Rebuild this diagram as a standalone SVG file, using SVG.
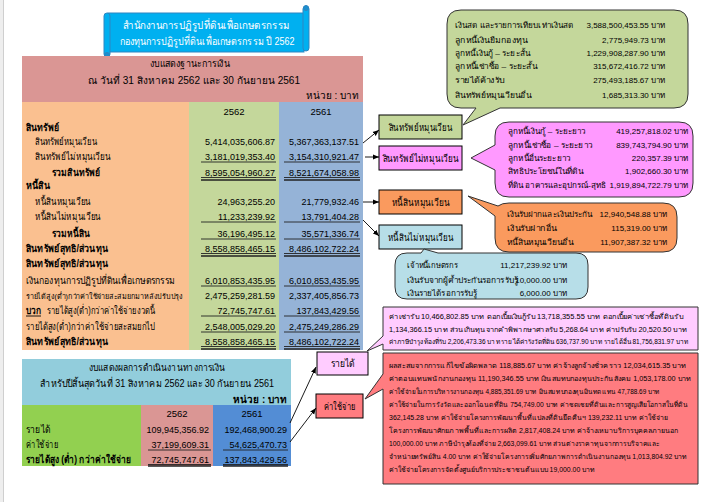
<svg xmlns="http://www.w3.org/2000/svg" width="714" height="502" viewBox="0 0 714 502">
<defs>
<marker id="ah" viewBox="0 0 10 10" refX="10" refY="5" markerWidth="7" markerHeight="7" orient="auto"><path d="M0,1 L10,5 L0,9 Z" fill="#000"/></marker>
<style>
text{font-family:"Liberation Sans","Noto Sans",sans-serif;fill:#000}
.th{font-size:10px}
.b{font-weight:bold}
.n{font-size:9px;text-anchor:end}
.h{font-size:9.5px;text-anchor:middle}
.c{font-size:8px}
.cn{font-size:8px;text-anchor:end}
.p{font-size:7px}
.ul{stroke:#222;stroke-width:0.9}
.dl{stroke:#222;stroke-width:1.6}
.box{stroke:#000;stroke-width:1}
.call{stroke:#333;stroke-width:1}
.ar{stroke:#000;stroke-width:0.9;fill:none;marker-end:url(#ah)}
</style>
</defs>
<rect width="714" height="502" fill="#fff"/>
<rect x="0" y="0" width="3" height="502" fill="#eeeeee"/>
<line x1="3.5" y1="0" x2="3.5" y2="502" stroke="#cfcfcf"/>

<g id="title">
<rect x="108" y="13" width="196" height="39" fill="#00B0F0" stroke="#2E86C1"/>
<rect x="303" y="6" width="6" height="45" rx="3" fill="#00B0F0" stroke="#2E86C1"/>
<circle cx="306" cy="8" r="2.5" fill="#1A8FD0" stroke="#2E86C1"/>
<rect x="104" y="13" width="6" height="44" rx="3" fill="#00B0F0" stroke="#2E86C1"/>
<circle cx="107" cy="55" r="2.5" fill="#1A8FD0" stroke="#2E86C1"/>
<text x="206" y="29" text-anchor="middle" style="font-size:10.5px;fill:#fff" textLength="167" lengthAdjust="spacingAndGlyphs">สำนักงานการปฏิรูปที่ดินเพื่อเกษตรกรรม</text>
<text x="207" y="45" text-anchor="middle" style="font-size:10.5px;fill:#fff" textLength="175" lengthAdjust="spacingAndGlyphs">กองทุนการปฏิรูปที่ดินเพื่อเกษตรกรรม  ปี 2562</text>
</g>

<g id="balance-sheet">
<rect x="22" y="56" width="341" height="46" fill="#DA9694"/>
<rect x="22" y="102" width="167" height="248" fill="#FAC090"/>
<rect x="189" y="102" width="90" height="248" fill="#C4D79B"/>
<rect x="279" y="102" width="84" height="248" fill="#95B3D7"/>
<text x="190" y="67" class="th" text-anchor="middle" textLength="80" lengthAdjust="spacingAndGlyphs">งบแสดงฐานะการเงิน</text>
<text x="194" y="84" class="th" text-anchor="middle" textLength="212" lengthAdjust="spacingAndGlyphs">ณ  วันที่ 31 สิงหาคม 2562 และ 30 กันยายน 2561</text>
<text x="359" y="99" class="th" text-anchor="end">หน่วย : บาท</text>
<text x="234" y="115" class="h">2562</text>
<text x="321" y="115" class="h">2561</text>

<text x="26" y="131" class="th b" textLength="33" lengthAdjust="spacingAndGlyphs">สินทรัพย์</text>
<text x="35" y="145" class="th" textLength="62" lengthAdjust="spacingAndGlyphs">สินทรัพย์หมุนเวียน</text>
<text x="35" y="160" class="th" textLength="76" lengthAdjust="spacingAndGlyphs">สินทรัพย์ไม่หมุนเวียน</text>
<text x="52" y="176" class="th b" textLength="48" lengthAdjust="spacingAndGlyphs">รวมสินทรัพย์</text>
<text x="26" y="189" class="th b" textLength="24" lengthAdjust="spacingAndGlyphs">หนี้สิน</text>
<text x="35" y="205" class="th" textLength="56" lengthAdjust="spacingAndGlyphs">หนี้สินหมุนเวียน</text>
<text x="35" y="220" class="th" textLength="66" lengthAdjust="spacingAndGlyphs">หนี้สินไม่หมุนเวียน</text>
<text x="52" y="237" class="th b" textLength="38" lengthAdjust="spacingAndGlyphs">รวมหนี้สิน</text>
<text x="26" y="252" class="th b" textLength="82" lengthAdjust="spacingAndGlyphs">สินทรัพย์สุทธิ/ส่วนทุน</text>
<text x="26" y="267" class="th b" textLength="82" lengthAdjust="spacingAndGlyphs">สินทรัพย์สุทธิ/ส่วนทุน</text>
<text x="26" y="284" class="th" textLength="149" lengthAdjust="spacingAndGlyphs">เงินกองทุนการปฏิรูปที่ดินเพื่อเกษตรกรรม</text>
<text x="26" y="299" style="font-size:7.6px" textLength="157" lengthAdjust="spacingAndGlyphs">รายได้สูง(ต่ำ)กว่าค่าใช้จ่ายสะสมยกมาหลังปรับปรุง</text>
<text x="26" y="314" class="th b" textLength="15" lengthAdjust="spacingAndGlyphs">บวก</text>
<line x1="26" y1="316" x2="41" y2="316" stroke="#000" stroke-width="0.9"/>
<text x="47" y="314" class="th" textLength="108" lengthAdjust="spacingAndGlyphs">รายได้สูง(ต่ำ)กว่าค่าใช้จ่ายงวดนี้</text>
<text x="26" y="330" class="th" textLength="129" lengthAdjust="spacingAndGlyphs">รายได้สูง(ต่ำ)กว่าค่าใช้จ่ายสะสมยกไป</text>
<text x="26" y="345" class="th b" textLength="82" lengthAdjust="spacingAndGlyphs">สินทรัพย์สุทธิ/ส่วนทุน</text>

<text x="275" y="145" class="n">5,414,035,606.87</text>
<text x="359" y="145" class="n">5,367,363,137.51</text>
<text x="275" y="160" class="n">3,181,019,353.40</text>
<text x="359" y="160" class="n">3,154,310,921.47</text>
<text x="275" y="176" class="n">8,595,054,960.27</text>
<text x="359" y="176" class="n">8,521,674,058.98</text>
<text x="275" y="205" class="n">24,963,255.20</text>
<text x="359" y="205" class="n">21,779,932.46</text>
<text x="275" y="220" class="n">11,233,239.92</text>
<text x="359" y="220" class="n">13,791,404.28</text>
<text x="275" y="237" class="n">36,196,495.12</text>
<text x="359" y="237" class="n">35,571,336.74</text>
<text x="275" y="252" class="n">8,558,858,465.15</text>
<text x="359" y="252" class="n">8,486,102,722.24</text>
<text x="275" y="284" class="n">6,010,853,435.95</text>
<text x="359" y="284" class="n">6,010,853,435.95</text>
<text x="275" y="299" class="n">2,475,259,281.59</text>
<text x="359" y="299" class="n">2,337,405,856.73</text>
<text x="275" y="314" class="n">72,745,747.61</text>
<text x="359" y="314" class="n">137,843,429.56</text>
<text x="275" y="330" class="n">2,548,005,029.20</text>
<text x="359" y="330" class="n">2,475,249,286.29</text>
<text x="275" y="345" class="n">8,558,858,465.15</text>
<text x="359" y="345" class="n">8,486,102,722.24</text>

<g class="ul">
<line x1="201" y1="162" x2="276" y2="162"/><line x1="284" y1="162" x2="360" y2="162"/>
<line x1="201" y1="222" x2="276" y2="222"/><line x1="284" y1="222" x2="360" y2="222"/>
<line x1="201" y1="239" x2="276" y2="239"/><line x1="284" y1="239" x2="360" y2="239"/>
<line x1="201" y1="286" x2="276" y2="286"/><line x1="284" y1="286" x2="360" y2="286"/>
<line x1="201" y1="316" x2="276" y2="316"/><line x1="284" y1="316" x2="360" y2="316"/>
<line x1="201" y1="332" x2="276" y2="332"/><line x1="284" y1="332" x2="360" y2="332"/>
<line x1="201" y1="177.5" x2="276" y2="177.5"/><line x1="284" y1="177.5" x2="360" y2="177.5"/>
<line x1="201" y1="253.5" x2="276" y2="253.5"/><line x1="284" y1="253.5" x2="360" y2="253.5"/>
<line x1="201" y1="346.5" x2="276" y2="346.5"/><line x1="284" y1="346.5" x2="360" y2="346.5"/>
</g>
<g class="dl">
<line x1="201" y1="180" x2="276" y2="180"/><line x1="284" y1="180" x2="360" y2="180"/>
<line x1="201" y1="256" x2="276" y2="256"/><line x1="284" y1="256" x2="360" y2="256"/>
<line x1="201" y1="349" x2="276" y2="349"/><line x1="284" y1="349" x2="360" y2="349"/>
</g>
</g>

<g id="income-statement">
<rect x="22" y="359" width="269" height="46" fill="#92CDDC"/>
<rect x="22" y="405" width="119" height="61" fill="#92D050"/>
<rect x="141" y="405" width="72" height="61" fill="#DA9694"/>
<rect x="213" y="405" width="78" height="61" fill="#538DD5"/>
<text x="157" y="371" class="th" text-anchor="middle" textLength="136" lengthAdjust="spacingAndGlyphs">งบแสดงผลการดำเนินงานทางการเงิน</text>
<text x="157" y="387" class="th" text-anchor="middle" textLength="234" lengthAdjust="spacingAndGlyphs">สำหรับปีสิ้นสุดวันที่ 31 สิงหาคม 2562 และ 30 กันยายน 2561</text>
<text x="287" y="403" class="th b" text-anchor="end">หน่วย : บาท</text>
<text x="177" y="417" class="h">2562</text>
<text x="252" y="417" class="h">2561</text>
<text x="26" y="433" class="th" textLength="24" lengthAdjust="spacingAndGlyphs">รายได้</text>
<text x="26" y="448" class="th" textLength="32" lengthAdjust="spacingAndGlyphs">ค่าใช้จ่าย</text>
<text x="26" y="463" class="th b" textLength="105" lengthAdjust="spacingAndGlyphs">รายได้สูง (ต่ำ) กว่าค่าใช้จ่าย</text>
<text x="209" y="433" class="n">109,945,356.92</text>
<text x="287" y="433" class="n">192,468,900.29</text>
<text x="209" y="448" class="n">37,199,609.31</text>
<text x="287" y="448" class="n">54,625,470.73</text>
<text x="209" y="463" class="n">72,745,747.61</text>
<text x="287" y="463" class="n">137,843,429.56</text>
<g class="ul">
<line x1="148" y1="450" x2="211" y2="450"/><line x1="223" y1="450" x2="288" y2="450"/>
<line x1="148" y1="464.5" x2="211" y2="464.5"/><line x1="223" y1="464.5" x2="288" y2="464.5"/>
</g>
<g class="dl">
<line x1="148" y1="466" x2="211" y2="466"/><line x1="223" y1="466" x2="288" y2="466"/>
</g>
</g>

<g id="node-current-assets">
<rect x="379" y="115" width="83" height="24" fill="#C4D79B" class="box"/>
<text x="420.5" y="131" class="th" text-anchor="middle" textLength="64" lengthAdjust="spacingAndGlyphs">สินทรัพย์หมุนเวียน</text>
</g>
<g id="node-noncurrent-assets">
<rect x="379" y="146" width="83" height="24" fill="#FF99FF" class="box"/>
<text x="420.5" y="162" class="th" text-anchor="middle" textLength="76" lengthAdjust="spacingAndGlyphs">สินทรัพย์ไม่หมุนเวียน</text>
</g>
<g id="node-current-liab">
<rect x="379" y="190" width="83" height="24" fill="#FA9A5E" class="box"/>
<text x="420.5" y="206" class="th" text-anchor="middle" textLength="58" lengthAdjust="spacingAndGlyphs">หนี้สินหมุนเวียน</text>
</g>
<g id="node-noncurrent-liab">
<rect x="379" y="225" width="83" height="24" fill="#B7DEE8" class="box"/>
<text x="420.5" y="241" class="th" text-anchor="middle" textLength="66" lengthAdjust="spacingAndGlyphs">หนี้สินไม่หมุนเวียน</text>
</g>
<g id="node-income">
<rect x="317" y="352" width="51" height="23" fill="#FFCCFF" class="box"/>
<text x="342.5" y="367" class="th" text-anchor="middle" textLength="24" lengthAdjust="spacingAndGlyphs">รายได้</text>
</g>
<g id="node-expense">
<rect x="316" y="394" width="47" height="24" fill="#FF7C80" class="box"/>
<text x="339.5" y="410" class="th" text-anchor="middle" textLength="32" lengthAdjust="spacingAndGlyphs">ค่าใช้จ่าย</text>
</g>

<g id="callout-current-assets">
<path class="call" fill="#C4D79B" d="M461,10 H674 Q688,10 688,24 V94 Q688,108 674,108 H500 L463,125 L476,108 H461 Q447,108 447,94 V24 Q447,10 461,10 Z"/>
<g class="c">
<text x="455" y="28" textLength="118" lengthAdjust="spacingAndGlyphs">เงินสด และรายการเทียบเท่าเงินสด</text>
<text x="455" y="43" textLength="72" lengthAdjust="spacingAndGlyphs">ลูกหนี้เงินยืมกองทุน</text>
<text x="455" y="56" textLength="75" lengthAdjust="spacingAndGlyphs">ลูกหนี้เงินกู้ – ระยะสั้น</text>
<text x="455" y="69" textLength="82" lengthAdjust="spacingAndGlyphs">ลูกหนี้เช่าซื้อ – ระยะสั้น</text>
<text x="455" y="83" textLength="50" lengthAdjust="spacingAndGlyphs">รายได้ค้างรับ</text>
<text x="455" y="98" textLength="76" lengthAdjust="spacingAndGlyphs">สินทรัพย์หมุนเวียนอื่น</text>
</g>
<g class="cn">
<text x="665" y="28">3,588,500,453.55 บาท</text>
<text x="665" y="43">2,775,949.73 บาท</text>
<text x="665" y="56">1,229,908,287.90 บาท</text>
<text x="665" y="69">315,672,416.72 บาท</text>
<text x="665" y="83">275,493,185.67 บาท</text>
<text x="665" y="98">1,685,313.30 บาท</text>
</g>
</g>

<g id="callout-noncurrent-assets">
<path class="call" fill="#FF99FF" d="M509,122 H679 Q693,122 693,136 V183 Q693,197 679,197 H509 Q495,197 495,183 V170 L471,158 L495,145 V136 Q495,122 509,122 Z"/>
<g class="c">
<text x="508" y="134" textLength="77" lengthAdjust="spacingAndGlyphs">ลูกหนี้เงินกู้ – ระยะยาว</text>
<text x="508" y="148" textLength="84" lengthAdjust="spacingAndGlyphs">ลูกหนี้เช่าซื้อ – ระยะยาว</text>
<text x="508" y="161" textLength="62" lengthAdjust="spacingAndGlyphs">ลูกหนี้อื่นระยะยาว</text>
<text x="508" y="174" textLength="75" lengthAdjust="spacingAndGlyphs">สิทธิประโยชน์ในที่ดิน</text>
<text x="508" y="188" textLength="98" lengthAdjust="spacingAndGlyphs">ที่ดิน อาคารและอุปกรณ์-สุทธิ</text>
</g>
<g class="cn">
<text x="688" y="134">419,257,818.02 บาท</text>
<text x="688" y="148">839,743,794.90 บาท</text>
<text x="688" y="161">220,357.39 บาท</text>
<text x="688" y="174">1,902,660.30 บาท</text>
<text x="688" y="188">1,919,894,722.79 บาท</text>
</g>
</g>

<g id="callout-current-liab">
<path class="call" fill="#FA9A5E" d="M509,203 H663 Q677,203 677,217 V238 Q677,252 663,252 H509 Q495,252 495,238 V216 L468,196 L498,206 Q502,203 509,203 Z"/>
<g class="c">
<text x="507" y="217" textLength="85" lengthAdjust="spacingAndGlyphs">เงินรับฝากและเงินประกัน</text>
<text x="507" y="231" textLength="50" lengthAdjust="spacingAndGlyphs">เงินรับฝากอื่น</text>
<text x="507" y="245" textLength="66" lengthAdjust="spacingAndGlyphs">หนี้สินหมุนเวียนอื่น</text>
</g>
<g class="cn">
<text x="667" y="217">12,940,548.88 บาท</text>
<text x="667" y="231">115,319.00 บาท</text>
<text x="667" y="245">11,907,387.32 บาท</text>
</g>
</g>

<g id="callout-noncurrent-liab">
<path class="call" fill="#B7DEE8" d="M407,253 H421 L424,249 L438,253 H576 Q588,253 588,265 V287 Q588,299 576,299 H407 Q395,299 395,287 V265 Q395,253 407,253 Z"/>
<g class="c">
<text x="407" y="268" textLength="51" lengthAdjust="spacingAndGlyphs">เจ้าหนี้เกษตรกร</text>
<text x="407" y="283" textLength="111" lengthAdjust="spacingAndGlyphs">เงินรับจากผู้ค้ำประกันรอการรับรู้</text>
<text x="407" y="296" textLength="70" lengthAdjust="spacingAndGlyphs">เงินรายได้รอการรับรู้</text>
</g>
<g class="cn">
<text x="567" y="268">11,217,239.92 บาท</text>
<text x="567" y="283">10,000.00 บาท</text>
<text x="567" y="296">6,000.00 บาท</text>
</g>
</g>

<g id="callout-income">
<path class="call" fill="#FFCCFF" d="M383,307 H698 V350 H383 V344 L367,351 L383,336 Z"/>
<g class="p">
<text x="389" y="319" textLength="294" lengthAdjust="spacingAndGlyphs">ค่าเช่ารับ 10,466,802.85 บาท ดอกเบี้ยเงินกู้รับ 13,718,355.55 บาท ดอกเบี้ยค่าเช่าซื้อที่ดินรับ</text>
<text x="389" y="332" textLength="298" lengthAdjust="spacingAndGlyphs">1,134,366.15 บาท ส่วนเกินทุนจากคำพิพากษาศาลรับ 5,268.64 บาท ค่าปรับรับ 20,520.50 บาท</text>
<text x="389" y="344" style="font-size:6.4px" textLength="299" lengthAdjust="spacingAndGlyphs">ค่าภาษีบำรุงท้องที่รับ 2,206,473.36 บาท รายได้ค่ารังวัดที่ดิน 636,737.90 บาท รายได้อื่น 81,756,831.97 บาท</text>
</g>
</g>

<g id="callout-expense">
<path class="call" fill="#FF7C80" d="M383,353 H698 V484 H383 V389 L365,399 L383,374 Z"/>
<g class="p">
<text x="389" y="368" textLength="297" lengthAdjust="spacingAndGlyphs">ผลสะสมจากการแก้ไขข้อผิดพลาด 118,885.67 บาท ค่าจ้างลูกจ้างชั่วคราว 12,034,615.35 บาท</text>
<text x="389" y="381" textLength="302" lengthAdjust="spacingAndGlyphs">ค่าตอบแทนพนักงานกองทุน 11,190,346.55 บาท  เงินสมทบกองทุนประกันสังคม 1,053,178.00 บาท</text>
<text x="389" y="394" textLength="271" lengthAdjust="spacingAndGlyphs">ค่าใช้จ่ายในการบริหารงานกองทุน 4,885,351.69 บาท  เงินสมทบกองทุนเงินทดแทน 47,788.69 บาท</text>
<text x="389" y="407" textLength="299" lengthAdjust="spacingAndGlyphs">ค่าใช้จ่ายในการรังวัดและออกโฉนดที่ดิน 754,749.00 บาท ค่าชดเชยที่ดินและการสูญเสียโอกาสในที่ดิน</text>
<text x="389" y="420" textLength="279" lengthAdjust="spacingAndGlyphs">362,145.28 บาท ค่าใช้จ่ายโครงการพัฒนาพื้นที่แปลงที่ดินยึดคืนฯ 139,232.11 บาท ค่าใช้จ่าย</text>
<text x="389" y="433" textLength="289" lengthAdjust="spacingAndGlyphs">โครงการพัฒนาศักยภาพพื้นที่และการผลิต 2,817,408.24 บาท  ค่าจ้างเหมาบริการบุคคลภายนอก</text>
<text x="389" y="446" textLength="271" lengthAdjust="spacingAndGlyphs">100,000.00 บาท ภาษีบำรุงท้องที่จ่าย 2,663,099.61 บาท ส่วนต่างราคาทุนจากการบริจาคและ</text>
<text x="389" y="459" textLength="298" lengthAdjust="spacingAndGlyphs">จำหน่ายทรัพย์สิน 4.00 บาท ค่าใช้จ่ายโครงการเพิ่มศักยภาพการดำเนินงานกองทุน 1,013,804.92 บาท</text>
<text x="389" y="472" textLength="206" lengthAdjust="spacingAndGlyphs">ค่าใช้จ่ายโครงการจัดตั้งศูนย์บริการประชาชนต้นแบบ 19,000.00 บาท</text>
</g>
</g>

<g id="connectors">
<path class="ar" d="M363,143 L379,130"/>
<path class="ar" d="M365,157 L379,157"/>
<path class="ar" d="M363,202 L379,202"/>
<path class="ar" d="M363,220 L379,236"/>
<path class="ar" d="M290,423 L316,367"/>
<path class="ar" d="M290,442 L316,408"/>
</g>
</svg>
